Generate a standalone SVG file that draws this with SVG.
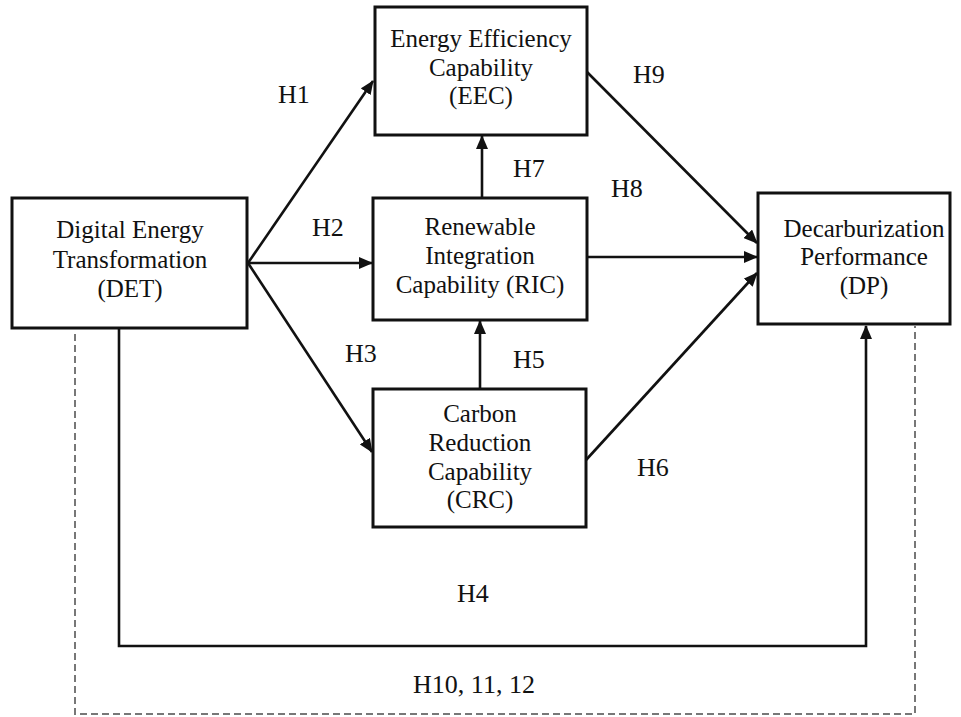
<svg xmlns="http://www.w3.org/2000/svg" width="961" height="717" viewBox="0 0 961 717">
<style>
  .box { fill: #ffffff; stroke: #111111; stroke-width: 3; }
  .t { font-family: "Liberation Serif", "Times New Roman", serif; font-size: 25px; fill: #111111; text-anchor: middle; }
  .lbl { font-family: "Liberation Serif", "Times New Roman", serif; font-size: 26px; fill: #111111; }
  .arrow { fill: none; stroke: #111111; stroke-width: 2.6; marker-end: url(#ah); }
  .plain { fill: none; stroke: #111111; stroke-width: 2.6; }
  .dash { fill: none; stroke: #777777; stroke-width: 2; stroke-dasharray: 7 4; }
</style>
<defs>
  <marker id="ah" markerUnits="userSpaceOnUse" markerWidth="14" markerHeight="12" refX="13" refY="6" orient="auto">
    <path d="M0,0 L14,6 L0,12 z" fill="#111111"/>
  </marker>
</defs>
<rect width="961" height="717" fill="#ffffff"/>

<g id="connectors">
  <path class="dash" d="M75,334 V714 H915 V326"/>
  <path class="arrow" d="M248,263 L373,81"/>
  <path class="arrow" d="M248,263 L372,263"/>
  <path class="arrow" d="M248,263 L372,452"/>
  <path class="arrow" d="M119,328 V646 H866 V326"/>
  <path class="arrow" d="M480,389 V321"/>
  <path class="arrow" d="M482,198 V136"/>
  <path class="arrow" d="M587,257 H757"/>
  <path class="arrow" d="M587,72 L757,243"/>
  <path class="arrow" d="M586,460 L757,273"/>
  <text class="lbl" x="278" y="103">H1</text>
  <text class="lbl" x="312" y="236">H2</text>
  <text class="lbl" x="345" y="362">H3</text>
  <text class="lbl" x="457" y="602">H4</text>
  <text class="lbl" x="513" y="368">H5</text>
  <text class="lbl" x="637" y="476">H6</text>
  <text class="lbl" x="513" y="177">H7</text>
  <text class="lbl" x="611" y="197">H8</text>
  <text class="lbl" x="633" y="83">H9</text>
  <text class="lbl" x="474" y="693" text-anchor="middle">H10, 11, 12</text>
</g>

<g id="DET">
  <rect class="box" x="12" y="198" width="235" height="130"/>
  <text class="t" x="130" y="238">Digital Energy</text>
  <text class="t" x="130" y="268">Transformation</text>
  <text class="t" x="130" y="297">(DET)</text>
</g>

<g id="EEC">
  <rect class="box" x="375" y="7" width="212" height="128"/>
  <text class="t" x="481" y="47">Energy Efficiency</text>
  <text class="t" x="481" y="76">Capability</text>
  <text class="t" x="481" y="104">(EEC)</text>
</g>

<g id="RIC">
  <rect class="box" x="373" y="198" width="214" height="122"/>
  <text class="t" x="480" y="235">Renewable</text>
  <text class="t" x="480" y="264">Integration</text>
  <text class="t" x="480" y="293">Capability (RIC)</text>
</g>

<g id="CRC">
  <rect class="box" x="373" y="389" width="213" height="138"/>
  <text class="t" x="480" y="422">Carbon</text>
  <text class="t" x="480" y="451">Reduction</text>
  <text class="t" x="480" y="480">Capability</text>
  <text class="t" x="480" y="508">(CRC)</text>
</g>

<g id="DP">
  <rect class="box" x="758" y="193" width="192" height="131"/>
  <text class="t" x="864" y="237">Decarburization</text>
  <text class="t" x="864" y="265">Performance</text>
  <text class="t" x="864" y="294">(DP)</text>
</g>
</svg>
